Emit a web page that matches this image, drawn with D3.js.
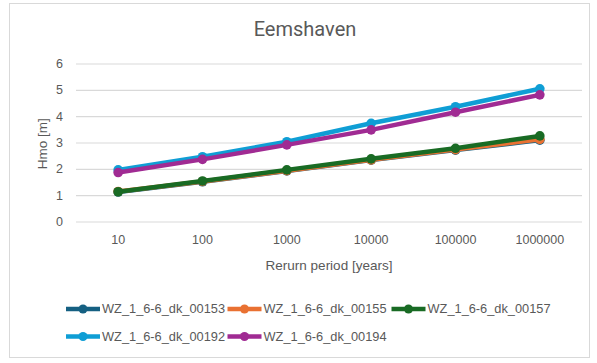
<!DOCTYPE html>
<html>
<head>
<meta charset="utf-8">
<script src="https://cdn.jsdelivr.net/npm/d3@7"></script>
<style>
  body { margin: 0; background: #fff; }
  svg { display: block; }
</style>
</head>
<body>
<div id="chart"></div>
<script>
// return periods on the x axis (categories, evenly spaced)
const periods = ['10', '100', '1000', '10000', '100000', '1000000']
const yTicks = [0, 1, 2, 3, 4, 5, 6]

// series
const seriesNames = ['WZ_1_6-6_dk_00153', 'WZ_1_6-6_dk_00155', 'WZ_1_6-6_dk_00157',
  'WZ_1_6-6_dk_00192', 'WZ_1_6-6_dk_00194']
const dk00153 = [1.12, 1.51, 1.92, 2.33, 2.71, 3.09]
const dk00155 = [1.14, 1.52, 1.93, 2.34, 2.73, 3.12]
const dk00157 = [1.13, 1.54, 1.96, 2.38, 2.78, 3.25]
const dk00192 = [1.96, 2.46, 3.03, 3.73, 4.36, 5.04]
const dk00194 = [1.86, 2.36, 2.91, 3.48, 4.15, 4.81]
const seriesColors = ['#156082', '#e97132', '#196b24', '#0f9ed5', '#a02b93']

const series = seriesNames.map((name, i) => ({
  name: name,
  color: seriesColors[i],
  values: [dk00153, dk00155, dk00157, dk00192, dk00194][i]
}))

const width = 597, height = 363
const margin = { top: 63.5, right: 15, bottom: 141.5, left: 76 }
const font = '"Liberation Sans", Arial, sans-serif'
const textColor = '#595959'

const svg = d3.select('#chart').append('svg')
  .attr('width', width).attr('height', height)

// chart frame
svg.append('rect')
  .attr('x', 9.5).attr('y', 3.5)
  .attr('width', 580).attr('height', 354)
  .attr('fill', '#fff').attr('stroke', '#d9d9d9')

const x = d3.scaleBand()
  .domain(periods)
  .range([margin.left, width - margin.right])
const y = d3.scaleLinear()
  .domain([0, 6])
  .range([height - margin.bottom, margin.top])

// horizontal gridlines + y labels
const yAxis = svg.append('g')
  .attr('transform', 'translate(' + margin.left + ',0)')
  .call(d3.axisLeft(y).tickValues(yTicks).tickFormat(d3.format('d'))
    .tickSize(-(width - margin.right - margin.left)).tickPadding(13))
yAxis.select('.domain').remove()
yAxis.selectAll('line').attr('stroke', '#d9d9d9').attr('stroke-width', 1.2)
yAxis.selectAll('text')
  .attr('fill', textColor).style('font-family', font).style('font-size', '12.5px')

// x labels
const xAxis = svg.append('g')
  .attr('transform', 'translate(0,' + (height - margin.bottom) + ')')
  .call(d3.axisBottom(x).tickSize(0).tickPadding(14))
xAxis.select('.domain').remove()
xAxis.selectAll('text')
  .attr('fill', textColor).style('font-family', font).style('font-size', '12.5px')

// lines
const line = d3.line()
  .x((d, i) => x(periods[i]) + x.bandwidth() / 2)
  .y(d => y(d))

const g = svg.append('g').attr('class', 'series')
series.forEach(s => {
  g.append('path')
    .datum(s.values)
    .attr('d', line)
    .attr('fill', 'none')
    .attr('stroke', s.color)
    .attr('stroke-width', 4.5)
    .attr('stroke-linejoin', 'round')
  g.selectAll(null)
    .data(s.values)
    .enter().append('circle')
    .attr('cx', (d, i) => x(periods[i]) + x.bandwidth() / 2)
    .attr('cy', d => y(d))
    .attr('r', 4.8)
    .attr('fill', s.color)
})

// titles
svg.append('text')
  .attr('x', 305).attr('y', 36)
  .attr('text-anchor', 'middle')
  .attr('fill', textColor)
  .style('font-family', 'Roboto, sans-serif').style('font-size', '20px')
  .text('Eemshaven')

svg.append('text')
  .attr('x', (margin.left + width - margin.right) / 2).attr('y', 270)
  .attr('text-anchor', 'middle')
  .attr('fill', textColor)
  .style('font-family', font).style('font-size', '13.5px')
  .text('Rerurn period [years]')

svg.append('text')
  .attr('transform', 'translate(47,' + y(2.95) + ') rotate(-90)')
  .attr('text-anchor', 'middle')
  .attr('fill', textColor)
  .style('font-family', font).style('font-size', '13.5px')
  .text('Hmo [m]')

// legend, 3 per row
const legend = svg.append('g').attr('class', 'legend')
const rowY = [309, 336.5]
const colX = [66, 227.5, 391.5]
series.forEach((s, i) => {
  const lx = colX[i % 3], ly = rowY[Math.floor(i / 3)]
  const item = legend.append('g').attr('transform', 'translate(' + lx + ',' + ly + ')')
  item.append('line')
    .attr('x1', 0).attr('x2', 34).attr('y1', 0).attr('y2', 0)
    .attr('stroke', s.color).attr('stroke-width', 4.5)
  item.append('circle')
    .attr('cx', 17).attr('cy', 0).attr('r', 4.5).attr('fill', s.color)
  item.append('text')
    .attr('x', 36).attr('y', 0).attr('dy', '0.35em')
    .attr('fill', textColor)
    .style('font-family', font).style('font-size', '12.8px')
    .text(s.name)
})
</script>
</body>
</html>
